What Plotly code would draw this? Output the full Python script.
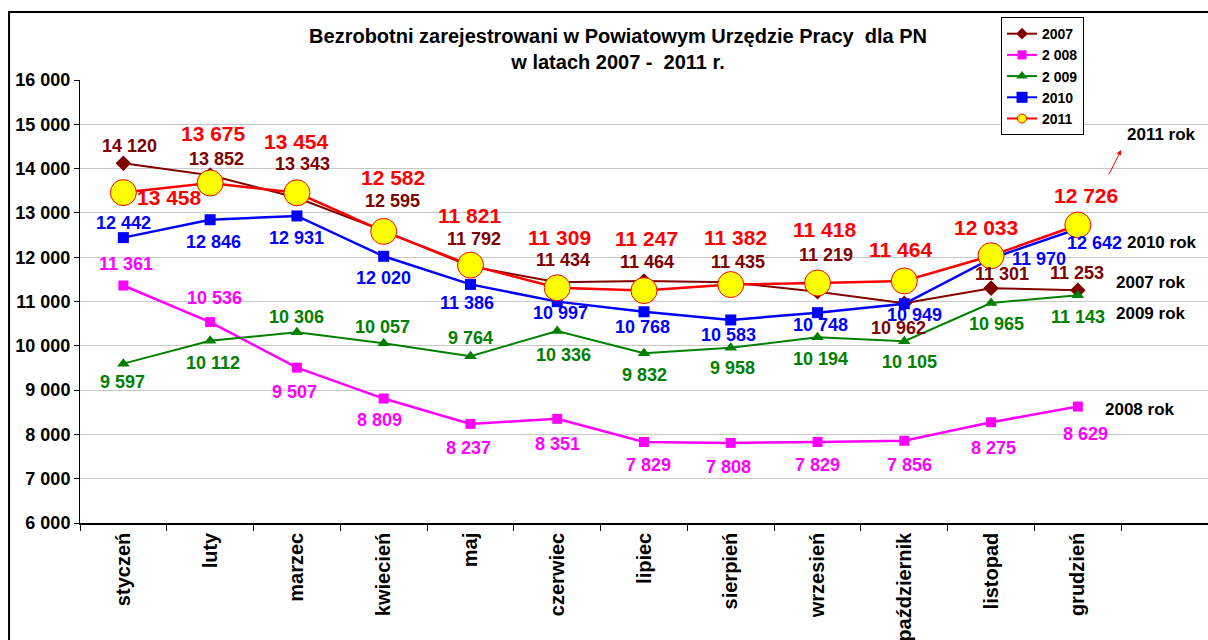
import plotly.graph_objects as go

# months on the x axis
MONTHS = ['styczeń', 'luty', 'marzec', 'kwiecień', 'maj', 'czerwiec',
          'lipiec', 'sierpień', 'wrzesień', 'październik', 'listopad', 'grudzień']

# registered unemployed per month
Y2007 = [14120, 13852, 13343, 12595, 11792, 11434, 11464, 11435, 11219, 10962, 11301, 11253]
Y2008 = [11361, 10536, 9507, 8809, 8237, 8351, 7829, 7808, 7829, 7856, 8275, 8629]
Y2009 = [9597, 10112, 10306, 10057, 9764, 10336, 9832, 9958, 10194, 10105, 10965, 11143]
Y2010 = [12442, 12846, 12931, 12020, 11386, 10997, 10768, 10583, 10748, 10949, 11970, 12642]
Y2011 = [13458, 13675, 13454, 12582, 11821, 11309, 11247, 11382, 11418, 11464, 12033, 12726]

SERIES_NAMES = ['2007', '2 008', '2 009', '2010', '2011']

FONT = 'Liberation Sans, Arial, sans-serif'

# label offsets (px) from each point: (dx, dy up)
SHIFT_2007 = [(6, 17), (6, 16), (6, 34), (9, 30), (4, 27), (6, 22),
              (3, 19), (7, 20), (8, 37), (-6, -25), (11, 14), (-1, 17)]
SHIFT_2008 = [(3, 22), (4, 24), (-2, -24), (-4, -21), (-2, -24), (0, -25),
              (4, -23), (-2, -24), (0, -23), (5, -24), (2, -26), (8, -27)]
SHIFT_2009 = [(-1, -18), (3, -22), (0, 15), (-1, 16), (0, 18), (6, -24),
              (0, -22), (2, -20), (3, -22), (5, -21), (5, -21), (0, -22)]
SHIFT_2010 = [(0, 15), (3, -22), (0, -22), (0, -22), (-3, -19), (3, -11),
              (-2, -15), (-2, -15), (3, -12), (10, -11), (48, 0), (17, -14)]
SHIFT_2011 = [(46, -5), (3, 50), (0, 51), (9, 54), (-1, 50), (2, 50),
              (2, 52), (5, 47), (7, 53), (-4, 31), (-5, 28), (8, 30)]

styles = [
    dict(color='#800000', symbol='diamond', size=12, width=2, lsize=9),
    dict(color='#FF00FF', symbol='square', size=10, width=2.5, lsize=9),
    dict(color='#008000', symbol='triangle-up', size=11, width=2, lsize=10),
    dict(color='#0000FF', symbol='square', size=11, width=2.5, lsize=11),
    dict(color='#FF0000', symbol='circle', size=26, width=2.5, lsize=9),
]

fig = go.Figure()

all_values = [Y2007, Y2008, Y2009, Y2010, Y2011]
all_shifts = [SHIFT_2007, SHIFT_2008, SHIFT_2009, SHIFT_2010, SHIFT_2011]

for name, vals, st in zip(SERIES_NAMES, all_values, styles):
    is_2011 = name == '2011'
    marker = dict(color='#FFFF00' if is_2011 else st['color'], symbol=st['symbol'],
                  size=st['size'],
                  line=dict(color=st['color'], width=1 if is_2011 else 0))
    fig.add_trace(go.Scatter(x=MONTHS, y=vals, mode='lines+markers', name=name,
                             line=dict(color=st['color'], width=st['width']),
                             marker=marker, showlegend=False, hoverinfo='x+y'))

# legend-only traces (smaller markers, like the original legend)
for name, st in zip(SERIES_NAMES, styles):
    is_2011 = name == '2011'
    fig.add_trace(go.Scatter(x=[None], y=[None], mode='lines+markers', name=name,
                             line=dict(color=st['color'], width=2),
                             marker=dict(color='#FFFF00' if is_2011 else st['color'],
                                         symbol=st['symbol'], size=st['lsize'],
                                         line=dict(color=st['color'], width=1 if is_2011 else 0))))

# data labels
for name, vals, shifts, st in zip(SERIES_NAMES, all_values, all_shifts, styles):
    size = 21 if name == '2011' else 18
    for m, v, (dx, dy) in zip(MONTHS, vals, shifts):
        fig.add_annotation(x=m, y=v, text=f'{v:,}'.replace(',', ' '), showarrow=False,
                           xshift=dx, yshift=dy,
                           font=dict(family=FONT, size=size, color=st['color'], weight='bold'))

# "rok" labels on the right
rok_labels = [('2011 rok', 0.926, 0.876), ('2010 rok', 0.926, 0.634),
              ('2007 rok', 0.9166, 0.5418), ('2009 rok', 0.9166, 0.474),
              ('2008 rok', 0.9068, 0.2573)]
for txt, px, py in rok_labels:
    fig.add_annotation(xref='paper', yref='paper', x=px, y=py, text=txt, showarrow=False,
                       xanchor='left', yanchor='middle',
                       font=dict(family=FONT, size=17, color='black', weight='bold'))

fig.add_annotation(xref='paper', yref='paper', x=0.923, y=0.842, text='', showarrow=True,
                   ax=-13, ay=26, arrowcolor='#FF0000', arrowwidth=1, arrowhead=2, arrowsize=1)

# outer chart frame: only its left and top edges are inside the picture
fig.add_shape(type='path', xref='paper', yref='paper',
              path='M -0.0629,-1 L -0.0629,1.1535 L 1.3,1.1535',
              line=dict(color='black', width=2), layer='below')

fig.update_layout(
    width=1208, height=640,
    margin=dict(l=80, r=0, t=80, b=117),
    paper_bgcolor='white', plot_bgcolor='white',
    separators=', ',
    title=dict(text='Bezrobotni zarejestrowani w Powiatowym Urzędzie Pracy  dla PN<br>w latach 2007 -  2011 r.',
               x=0.477, xref='paper', xanchor='center', y=0.933, yanchor='middle',
               font=dict(family=FONT, size=20, color='black', weight='bold')),
    legend=dict(x=0.8165, y=1.142, xanchor='left', yanchor='top',
                bgcolor='white', bordercolor='black', borderwidth=1,
                font=dict(family=FONT, size=14, color='black', weight='bold'),
                tracegroupgap=0, itemwidth=30),
    showlegend=True,
)

fig.update_xaxes(type='category', categoryorder='array', categoryarray=MONTHS,
                 range=[-0.5, 12.5], tickson='boundaries', ticks='outside', ticklen=6,
                 tickcolor='black', showline=True, linecolor='black', linewidth=1.5,
                 showgrid=False, tickangle=-90, automargin=False,
                 tickfont=dict(family=FONT, size=20, color='black', weight='bold'))

fig.update_yaxes(range=[6000, 16000], dtick=1000, tickformat=',d', ticks='outside', ticklen=5,
                 tickcolor='black', showline=True, linecolor='black', linewidth=1,
                 showgrid=True, gridcolor='#c8c8c8', gridwidth=1.2, zeroline=False,
                 automargin=False,
                 tickfont=dict(family=FONT, size=18, color='black', weight='bold'))

# drop the default 8px page margin so the 1208x640 figure fills the window exactly
fig.write_html('out.html', config={'displayModeBar': False},
               post_script="document.body.style.margin = '0';")
